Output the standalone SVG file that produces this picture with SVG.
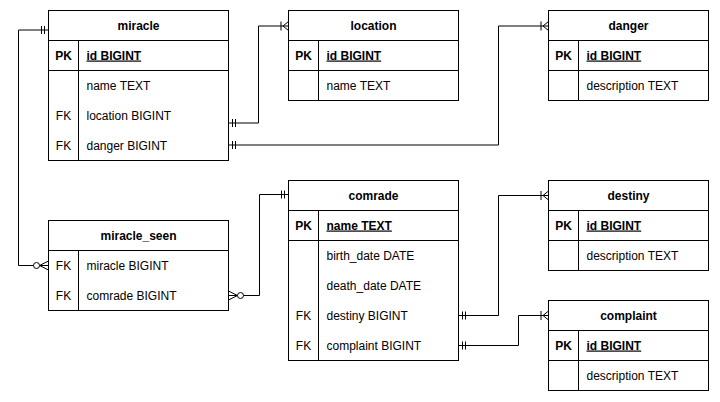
<svg xmlns="http://www.w3.org/2000/svg" width="720" height="402" viewBox="0 0 720 402">
<style>
.box{fill:#fff;stroke:#000;stroke-width:1}
.ln{stroke:#000;stroke-width:1;fill:none}
text{font-family:"Liberation Sans",Arial,sans-serif;font-size:12px;fill:#000}
.h{font-weight:bold;text-anchor:middle}
.k{text-anchor:middle}
.pk{font-weight:bold}
.u{font-weight:bold;text-decoration:underline}
.edge{stroke:#000;stroke-width:1;fill:none}
</style>
<defs>
<marker id="mOne" markerUnits="userSpaceOnUse" orient="auto-start-reverse" refX="0" refY="0" viewBox="-12 -6 14 12" markerWidth="14" markerHeight="12" overflow="visible">
<path d="M-4,-4V4M-7,-4V4" stroke="#000" stroke-width="1" fill="none"/>
</marker>
<marker id="mMany" markerUnits="userSpaceOnUse" orient="auto-start-reverse" refX="0" refY="0" viewBox="-12 -6 14 12" markerWidth="14" markerHeight="12" overflow="visible">
<path d="M-7.5,-4.5V4.5M0,-4.5L-5.5,0L0,4.5" stroke="#000" stroke-width="1" fill="none"/>
</marker>
<marker id="zMany" markerUnits="userSpaceOnUse" orient="auto-start-reverse" refX="0" refY="0" viewBox="-18 -6 20 12" markerWidth="20" markerHeight="12" overflow="visible">
<path d="M0,-4.5L-9,0L0,4.5" stroke="#000" stroke-width="1" fill="none"/>
<circle cx="-12" cy="0" r="3" fill="#fff" stroke="#000" stroke-width="1"/>
</marker>
</defs>
<rect width="720" height="402" fill="#fff"/>

<g id="connectors">
<path class="edge" d="M228.5,123 H258.5 V26 H288.5" marker-start="url(#mOne)" marker-end="url(#mMany)"/>
<path class="edge" d="M228.5,145 H498.5 V26 H548.5" marker-start="url(#mOne)" marker-end="url(#mMany)"/>
<path class="edge" d="M48.5,30 H18.5 V265.5 H48.5" marker-start="url(#mOne)" marker-end="url(#zMany)"/>
<path class="edge" d="M288.5,194.5 H259.5 V295.5 H228.5" marker-start="url(#mOne)" marker-end="url(#zMany)"/>
<path class="edge" d="M458.5,315.5 H498.5 V195.5 H548.5" marker-start="url(#mOne)" marker-end="url(#mMany)"/>
<path class="edge" d="M458.5,345.5 H518.5 V315.5 H548.5" marker-start="url(#mOne)" marker-end="url(#mMany)"/>
</g>

<g id="miracle">
<rect class="box" x="48.5" y="10.5" width="180" height="150"/>
<path class="ln" d="M48.5,40.5H228.5M48.5,70.5H228.5M78.5,40.5V160.5"/>
<text class="h" x="138.5" y="29.5">miracle</text>
<text class="k pk" x="63.5" y="59.5">PK</text>
<text class="u" x="86.5" y="59.5">id BIGINT</text>
<text x="86.5" y="89.5">name TEXT</text>
<text class="k" x="63.5" y="119.5">FK</text>
<text x="86.5" y="119.5">location BIGINT</text>
<text class="k" x="63.5" y="149.5">FK</text>
<text x="86.5" y="149.5">danger BIGINT</text>
</g>

<g id="location">
<rect class="box" x="288.5" y="10.5" width="170" height="90"/>
<path class="ln" d="M288.5,40.5H458.5M288.5,70.5H458.5M318.5,40.5V100.5"/>
<text class="h" x="373.5" y="29.5">location</text>
<text class="k pk" x="303.5" y="59.5">PK</text>
<text class="u" x="326.5" y="59.5">id BIGINT</text>
<text x="326.5" y="89.5">name TEXT</text>
</g>

<g id="danger">
<rect class="box" x="548.5" y="10.5" width="160" height="90"/>
<path class="ln" d="M548.5,40.5H708.5M548.5,70.5H708.5M578.5,40.5V100.5"/>
<text class="h" x="628.5" y="29.5">danger</text>
<text class="k pk" x="563.5" y="59.5">PK</text>
<text class="u" x="586.5" y="59.5">id BIGINT</text>
<text x="586.5" y="89.5">description TEXT</text>
</g>

<g id="miracle_seen">
<rect class="box" x="48.5" y="220.5" width="180" height="90"/>
<path class="ln" d="M48.5,250.5H228.5M78.5,250.5V310.5"/>
<text class="h" x="138.5" y="239.5">miracle_seen</text>
<text class="k" x="63.5" y="269.5">FK</text>
<text x="86.5" y="269.5">miracle BIGINT</text>
<text class="k" x="63.5" y="299.5">FK</text>
<text x="86.5" y="299.5">comrade BIGINT</text>
</g>

<g id="comrade">
<rect class="box" x="288.5" y="180.5" width="170" height="180"/>
<path class="ln" d="M288.5,210.5H458.5M288.5,240.5H458.5M318.5,210.5V360.5"/>
<text class="h" x="373.5" y="199.5">comrade</text>
<text class="k pk" x="303.5" y="229.5">PK</text>
<text class="u" x="326.5" y="229.5">name TEXT</text>
<text x="326.5" y="259.5">birth_date DATE</text>
<text x="326.5" y="289.5">death_date DATE</text>
<text class="k" x="303.5" y="319.5">FK</text>
<text x="326.5" y="319.5">destiny BIGINT</text>
<text class="k" x="303.5" y="349.5">FK</text>
<text x="326.5" y="349.5">complaint BIGINT</text>
</g>

<g id="destiny">
<rect class="box" x="548.5" y="180.5" width="160" height="90"/>
<path class="ln" d="M548.5,210.5H708.5M548.5,240.5H708.5M578.5,210.5V270.5"/>
<text class="h" x="628.5" y="199.5">destiny</text>
<text class="k pk" x="563.5" y="229.5">PK</text>
<text class="u" x="586.5" y="229.5">id BIGINT</text>
<text x="586.5" y="259.5">description TEXT</text>
</g>

<g id="complaint">
<rect class="box" x="548.5" y="300.5" width="160" height="90"/>
<path class="ln" d="M548.5,330.5H708.5M548.5,360.5H708.5M578.5,330.5V390.5"/>
<text class="h" x="628.5" y="319.5">complaint</text>
<text class="k pk" x="563.5" y="349.5">PK</text>
<text class="u" x="586.5" y="349.5">id BIGINT</text>
<text x="586.5" y="379.5">description TEXT</text>
</g>
</svg>
